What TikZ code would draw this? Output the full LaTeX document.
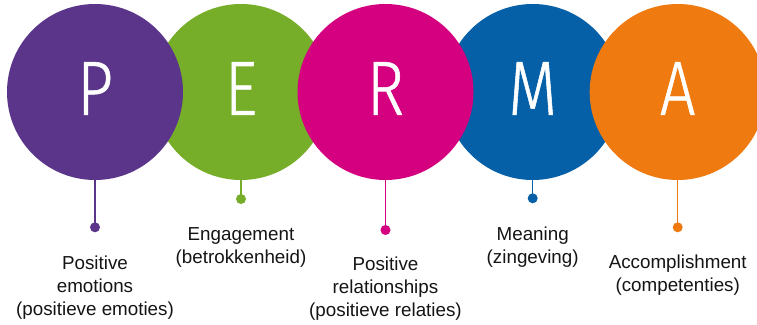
\documentclass[tikz,border=0pt]{standalone}
\usepackage{fontspec}
\setmainfont{Liberation Sans}
\newfontfamily\letterfont[FakeStretch=0.82,FakeBold=0.7]{Fira Sans Light}
\definecolor{permaP}{HTML}{5B358A}
\definecolor{permaE}{HTML}{76AE2A}
\definecolor{permaR}{HTML}{D4007F}
\definecolor{permaM}{HTML}{0560A8}
\definecolor{permaA}{HTML}{EE7A10}
\definecolor{labeltext}{HTML}{141414}
\begin{document}
\begin{tikzpicture}[x=1pt,y=-1pt,
  bubble/.style={circle,fill=#1,minimum size=176pt,inner sep=0pt},
  letter/.style={text=white,font=\letterfont\fontsize{77}{77}\selectfont,inner sep=0pt,yshift=3.5pt},
  stem/.style={draw=#1,line width=1.4pt},
  knob/.style={circle,fill=#1,minimum size=10pt,inner sep=0pt},
  caption/.style={text=labeltext,align=center,inner sep=0pt,font=\fontsize{18.8}{23}\selectfont}]
\useasboundingbox (0,0) rectangle (757,324);
% lower layer: E and M
\node[bubble=permaE] (eC) at (241,92) {};
\node[bubble=permaM] (mC) at (532.7,92) {};
% upper layer: P, R and A
\node[bubble=permaP] (pC) at (95,92) {};
\node[bubble=permaR] (rC) at (385.5,92) {};
\node[bubble=permaA] (aC) at (677.7,92) {};
% initials
\node[letter] (pT) at (pC) {P};
\node[letter] (eT) at (eC) {E};
\node[letter] (rT) at (rC) {R};
\node[letter] (mT) at (mC) {M};
\node[letter] (aT) at (aC) {A};
% end dots
\node[knob=permaP] (pD) at (95,227.3) {};
\node[knob=permaE] (eD) at (241,199) {};
\node[knob=permaR] (rD) at (385.5,230) {};
\node[knob=permaM] (mD) at (532.7,198.3) {};
\node[knob=permaA] (aD) at (677.7,227.3) {};
% stems
\draw[stem=permaP] (pC.south) -- (pD.center);
\draw[stem=permaE] (eC.south) -- (eD.center);
\draw[stem=permaR] (rC.south) -- (rD.center);
\draw[stem=permaM] (mC.south) -- (mD.center);
\draw[stem=permaA] (aC.south) -- (aD.center);
% captions
\node[caption] (pL) at (95,288) {Positive\\emotions\\(positieve emoties)};
\node[caption] (eL) at (241,247) {Engagement\\(betrokkenheid)};
\node[caption] (rL) at (385.5,289) {Positive\\relationships\\(positieve relaties)};
\node[caption] (mL) at (532.7,247) {Meaning\\(zingeving)};
\node[caption] (aL) at (677.7,275) {Accomplishment\\(competenties)};
\end{tikzpicture}
\end{document}
